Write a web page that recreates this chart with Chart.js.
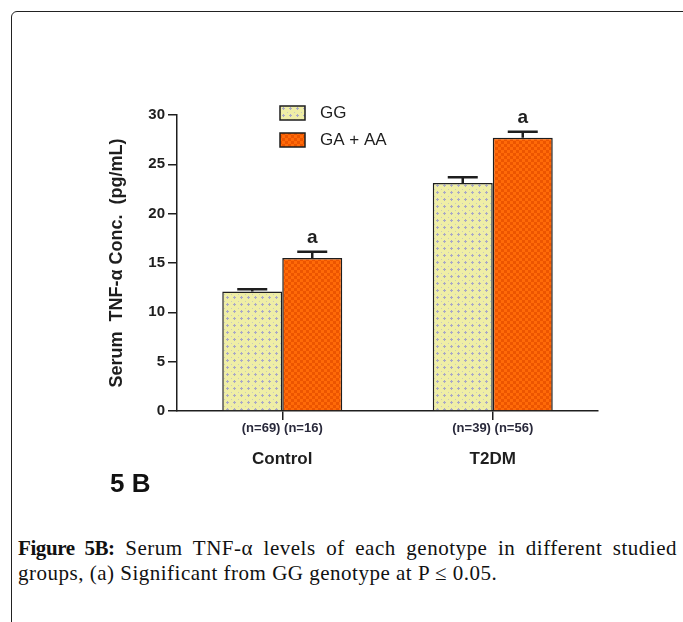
<!DOCTYPE html>
<html>
<head>
<meta charset="utf-8">
<script src="https://cdn.jsdelivr.net/npm/chart.js@4/dist/chart.umd.min.js"></script>
<style>
  html, body { margin: 0; padding: 0; background: #fff; overflow: hidden; }
  body { width: 683px; height: 622px; position: relative; }
  #frame {
    position: absolute; left: 11px; top: 11px; width: 720px; height: 700px;
    border: 1.5px solid #222; border-radius: 6px; box-sizing: border-box;
  }
  #c { position: absolute; left: 0; top: 0; }
  #panel {
    position: absolute; left: 110px; top: 468px;
    font: bold 26px "Liberation Sans", Arial, sans-serif; color: #111;
  }
  #caption {
    position: absolute; left: 18px; top: 536px; width: 659px;
    font: 21px/25px "Liberation Serif", serif; letter-spacing: 0.5px; color: #111;
    text-align: justify;
  }
  #caption b { font-weight: bold; letter-spacing: -0.4px; }
</style>
</head>
<body>
<div id="frame"></div>
<canvas id="c" width="683" height="520"></canvas>
<div id="panel">5 B</div>
<div id="caption"><b>Figure 5B:</b> Serum TNF-α levels of each genotype in different studied groups, (a) Significant from GG genotype at P ≤ 0.05.</div>
<script>
// ── Data ──
const GROUPS = ["Control", "T2DM"];
const N_LABELS = ["(n=69) (n=16)", "(n=39) (n=56)"];
const SERIES = ["GG", "GA + AA"];
const GG_MEAN = [12.1, 23.1];
const GG_SEM = [0.25, 0.6];
const GAAA_MEAN = [15.5, 27.7];
const GAAA_SEM = [0.65, 0.6];
const GAAA_SIG = ["a", "a"];
const Y_MIN = 0, Y_MAX = 30, Y_STEP = 5;

const FONT = '"Liberation Sans", Arial, sans-serif';
const INK = "#1e1e1e";

// ── Fill patterns ──
function makePattern(size, draw) {
    const c = document.createElement("canvas");
    c.width = size; c.height = size;
    draw(c.getContext("2d"));
    return c.getContext("2d").createPattern(c, "repeat");
}

const ggFill = makePattern(7, g => {
    g.fillStyle = "#efeea6";
    g.fillRect(0, 0, 7, 7);
    g.fillStyle = "#a9a8c6";
    g.fillRect(3, 2, 1, 3);
    g.fillRect(2, 3, 3, 1);
    g.fillStyle = "#c9c8c0";
    g.fillRect(0, 0, 1, 1);
});

const orangeFill = makePattern(6, g => {
    g.fillStyle = "#ff6a08";
    g.fillRect(0, 0, 6, 6);
    g.fillStyle = "#ec5500";
    g.fillRect(0, 0, 3, 3);
    g.fillRect(3, 3, 3, 3);
});

const FILLS = [ggFill, orangeFill];
const MEANS = [GG_MEAN, GAAA_MEAN];
const SEMS = [GG_SEM, GAAA_SEM];

// ── Extras: error bars, significance letters, n labels, legend ──
const extras = {
    id: "extras",
    afterDatasetsDraw(chart) {
        const ctx = chart.ctx;
        const y = chart.scales.y;
        const area = chart.chartArea;
        ctx.save();

        // error bars (upper only)
        ctx.strokeStyle = INK;
        ctx.lineWidth = 2.5;
        MEANS.forEach((means, di) => {
            const meta = chart.getDatasetMeta(di);
            means.forEach((m, i) => {
                const bx = meta.data[i].x;
                const top = y.getPixelForValue(m);
                const cap = y.getPixelForValue(m + SEMS[di][i]);
                ctx.beginPath();
                ctx.moveTo(bx, top);
                ctx.lineTo(bx, cap);
                ctx.moveTo(bx - 15, cap);
                ctx.lineTo(bx + 15, cap);
                ctx.stroke();
            });
        });

        // significance letters
        ctx.fillStyle = INK;
        ctx.font = "bold 19px " + FONT;
        ctx.textAlign = "center";
        ctx.textBaseline = "alphabetic";
        const metaB = chart.getDatasetMeta(1);
        GAAA_SIG.forEach((s, i) => {
            if (!s) return;
            const cap = y.getPixelForValue(GAAA_MEAN[i] + GAAA_SEM[i]);
            ctx.fillText(s, metaB.data[i].x, cap - 9);
        });

        // n labels under the axis
        ctx.font = "bold 13px " + FONT;
        ctx.fillStyle = "#2a2a3c";
        ctx.textBaseline = "middle";
        N_LABELS.forEach((t, i) => {
            ctx.fillText(t, chart.scales.x.getPixelForValue(i), area.bottom + 17);
        });

        // legend
        const lx = area.left + 103;
        ctx.font = "17px " + FONT;
        ctx.textAlign = "left";
        ctx.fillStyle = INK;
        SERIES.forEach((name, i) => {
            const ly = area.top - 9 + i * 27;
            ctx.fillStyle = FILLS[i];
            ctx.fillRect(lx, ly, 25, 14);
            ctx.lineWidth = 1.5;
            ctx.strokeStyle = INK;
            ctx.strokeRect(lx, ly, 25, 14);
            ctx.fillStyle = INK;
            ctx.fillText(name, lx + 40, ly + 7.5);
        });
        ctx.restore();
    }
};

new Chart(document.getElementById("c"), {
    type: "bar",
    data: {
        labels: GROUPS,
        datasets: SERIES.map((name, i) => ({
            label: name,
            data: MEANS[i],
            backgroundColor: FILLS[i],
            borderColor: INK,
            borderWidth: 1.5,
            barPercentage: 1,
            categoryPercentage: 0.57,
        })),
    },
    options: {
        responsive: false,
        animation: false,
        layout: { padding: { left: 106, top: 115, right: 85, bottom: 49 } },
        plugins: { legend: { display: false }, tooltip: { enabled: false } },
        scales: {
            x: {
                afterFit: s => { s.height = 60; },
                grid: { offset: false, drawOnChartArea: false, tickLength: 9, color: INK, lineWidth: 1.5 },
                border: { color: INK, width: 1.5 },
                ticks: { color: INK, font: { family: FONT, size: 17, weight: "bold" }, padding: 29 },
            },
            y: {
                min: Y_MIN, max: Y_MAX,
                afterFit: s => { s.width = 71; },
                grid: { drawOnChartArea: false, tickLength: 9, color: INK, lineWidth: 1.5 },
                border: { color: INK, width: 1.5 },
                ticks: { stepSize: Y_STEP, color: INK, font: { family: FONT, size: 15, weight: "bold" }, padding: 3 },
                title: {
                    display: true,
                    text: "Serum  TNF-α Conc.  (pg/mL)",
                    color: INK,
                    font: { family: FONT, size: 18, weight: "bold" },
                    padding: 0,
                },
            },
        },
    },
    plugins: [extras],
});
</script>
</body>
</html>
